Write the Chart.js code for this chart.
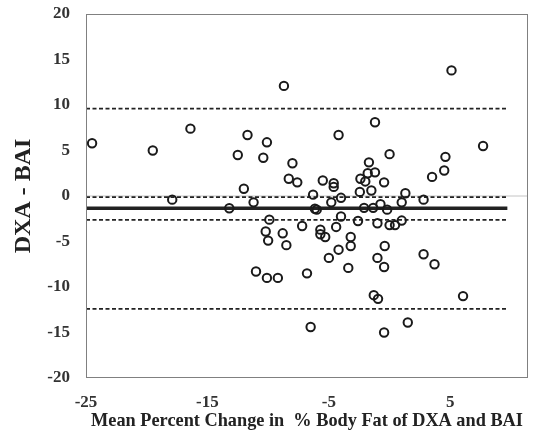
<!DOCTYPE html>
<html>
<head>
<meta charset="utf-8">
<script src="https://cdn.jsdelivr.net/npm/chart.js@4.4.1/dist/chart.umd.min.js"></script>
<style>
  html, body { margin: 0; padding: 0; background: #fff; }
</style>
</head>
<body>
<canvas id="chart" width="544" height="439"></canvas>
<script>
// mean of the two methods (x) and their difference (y)
const meanPct = [
  -24.5, -19.5, -16.4, -12.5, -11.7, -10.1, -10.4, -8.7, -8.0, -8.3,
  -7.6, -12.0, -17.9, -13.2, -11.2, -9.9, -10.2, -10.0, -8.8, -8.5,
  -7.2, -11.0, -10.1, -9.2, -6.8, -6.5, 5.1, -1.2, -4.2, 7.7,
  0.0, 4.6, 4.5, 3.5, -1.7, -1.8, -1.2, -2.4, -2.0, -0.45,
  -5.5, -4.6, -4.6, -6.3, -2.45, -1.5, 1.3, -4.0, 2.8, -6.15,
  -6.0, -4.8, -2.1, -1.35, -0.75, -0.2, 1.0, -4.0, -4.4, -2.6,
  -1.0, 0.0, 0.45, 1.0, -5.7, -5.7, -5.3, -3.2, -3.2, -4.2,
  -5.0, -3.4, -0.4, -1.0, -0.45, 2.8, 3.7, -1.3, -0.95, 6.05,
  -0.45, 1.5
]
const diffPct = [
  5.8, 5.0, 7.4, 4.5, 6.7, 5.9, 4.2, 12.1, 3.6, 1.9,
  1.5, 0.8, -0.4, -1.35, -0.7, -2.6, -3.9, -4.9, -4.1, -5.4,
  -3.3, -8.3, -9.0, -9.0, -8.5, -14.4, 13.8, 8.1, 6.7, 5.5,
  4.6, 4.3, 2.8, 2.1, 3.7, 2.5, 2.6, 1.9, 1.6, 1.5,
  1.7, 1.4, 1.0, 0.15, 0.45, 0.6, 0.3, -0.2, -0.4, -1.4,
  -1.5, -0.7, -1.3, -1.3, -0.9, -1.5, -0.7, -2.25, -3.4, -2.75,
  -3.0, -3.2, -3.2, -2.7, -3.7, -4.2, -4.5, -4.5, -5.5, -5.9,
  -6.8, -7.9, -5.5, -6.8, -7.8, -6.4, -7.5, -10.9, -11.3, -11.0,
  -15.0, -13.9
]

const xTicks = [-25, -15, -5, 5]
const xMin = -25
const xMax = 11.4
const yMin = -20
const yMax = 20

// bias and limits of agreement
const meanDiff = -1.35
const meanCiUpper = -0.12
const meanCiLower = -2.62
const loaUpper = 9.6
const loaLower = -12.4
const refStart = -25
const refEnd = 9.7

const serif = "'Liberation Serif', 'Times New Roman', serif"
const textColor = "#333"

function hLine(y, style) {
  return Object.assign({
    type: "line",
    data: [{ x: refStart, y }, { x: refEnd, y }],
    borderColor: "#222",
    borderWidth: 1.6,
    borderDash: [4, 2.5],
    pointRadius: 0,
    fill: false,
    order: 2
  }, style || {})
}

const frame = {
  id: "frame",
  afterDraw(chart) {
    const { ctx, chartArea: a } = chart
    ctx.save()
    ctx.strokeStyle = "#808080"
    ctx.lineWidth = 1
    ctx.strokeRect(a.left + 0.5, a.top + 0.5, a.right - a.left - 1, a.bottom - a.top - 1)
    ctx.restore()
  }
}

new Chart(document.getElementById("chart"), {
  type: "scatter",
  data: {
    datasets: [
      {
        label: "points",
        data: meanPct.map((x, i) => ({ x, y: diffPct[i] })),
        pointRadius: 4.2,
        pointBorderWidth: 2,
        pointBorderColor: "#1a1a1a",
        pointBackgroundColor: "rgba(0,0,0,0)",
        order: 1
      },
      {
        type: "line",
        data: [{ x: xMin, y: 0 }, { x: xMax, y: 0 }],
        borderColor: "#c4c4c4",
        borderWidth: 1,
        pointRadius: 0,
        order: 4
      },
      hLine(loaUpper),
      hLine(meanCiUpper),
      hLine(meanDiff, { borderDash: [], borderWidth: 3.5, order: 3 }),
      hLine(meanCiLower),
      hLine(loaLower)
    ]
  },
  options: {
    responsive: false,
    animation: false,
    devicePixelRatio: 1,
    layout: { padding: { top: 14, right: 16, left: 0, bottom: 0 } },
    plugins: {
      legend: { display: false },
      tooltip: { enabled: false }
    },
    scales: {
      x: {
        type: "linear",
        min: xMin,
        max: xMax,
        afterBuildTicks: s => { s.ticks = xTicks.map(v => ({ value: v })) },
        afterFit: s => {
          s.height = 61
          s.paddingLeft = 0
          s.paddingRight = 0
        },
        grid: { display: false, drawTicks: false },
        border: { display: false },
        ticks: {
          padding: 14,
          color: textColor,
          font: { family: serif, size: 17, weight: "bold" }
        },
        title: {
          display: true,
          text: "Mean Percent Change in  % Body Fat of DXA and BAI",
          color: "#222",
          padding: { top: 0, bottom: 7 },
          font: { family: serif, size: 18.3, weight: "bold" }
        }
      },
      y: {
        min: yMin,
        max: yMax,
        afterFit: s => {
          s.width = 86
          s.paddingTop = 0
          s.paddingBottom = 0
        },
        grid: { display: false, drawTicks: false },
        border: { display: false },
        ticks: {
          stepSize: 5,
          padding: 16,
          color: textColor,
          font: { family: serif, size: 17, weight: "bold" }
        },
        title: {
          display: true,
          text: "DXA - BAI",
          color: "#222",
          padding: { top: 9, bottom: 0 },
          font: { family: serif, size: 24, weight: "bold" }
        }
      }
    }
  },
  plugins: [frame]
})
</script>
</body>
</html>
